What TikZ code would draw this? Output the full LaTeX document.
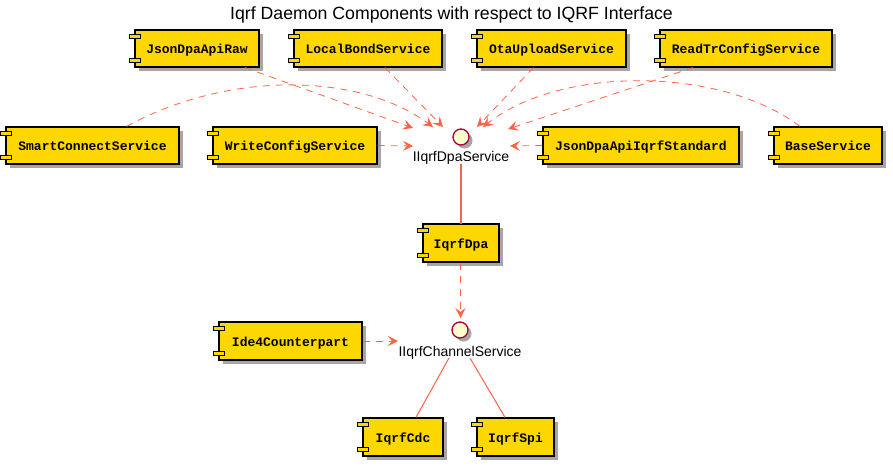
\documentclass[tikz,border=0pt]{standalone}
\usepackage{fontspec}
\setmainfont{Liberation Sans}
\setmonofont{Liberation Mono}
\usetikzlibrary{arrows.meta,shadows}
\definecolor{arr}{RGB}{255,99,71}
\definecolor{compgold}{RGB}{255,215,0}
\definecolor{ifill}{RGB}{254,254,206}
\definecolor{iborder}{RGB}{168,0,54}
\tikzset{
  shadowed/.style={drop shadow={shadow xshift=3.5pt,shadow yshift=-3.5pt,opacity=0.35,fill=black}},
  comp/.style={shape=rectangle,draw=black,line width=1.2pt,fill=compgold,inner sep=0pt,
    minimum height=37pt,text height=10pt,text depth=0pt,shadowed,
    font=\fontsize{13}{15}\selectfont\ttfamily\bfseries},
  compicon/.style={draw=black,line width=1pt,fill=compgold},
  iface/.style={shape=circle,draw=iborder,line width=1.3pt,fill=ifill,minimum size=16pt,inner sep=0pt,shadowed},
  ilabel/.style={anchor=base,inner sep=0pt,font=\fontsize{14}{16}\selectfont},
  dep/.style={draw=arr,line width=0.8pt,dash pattern=on 7pt off 6pt,-{Stealth[length=10pt,width=10pt,inset=4pt]}},
  link/.style={draw=arr,line width=1pt},
  vlink/.style={draw=arr,line width=1.4pt}
}
\newcommand\compicons[1]{%
  \draw[compicon] ([xshift=-5pt,yshift=-5pt]#1.north west) rectangle ([xshift=6pt,yshift=-9.5pt]#1.north west);
  \draw[compicon] ([xshift=-5pt,yshift=5pt]#1.south west) rectangle ([xshift=6pt,yshift=9.5pt]#1.south west);}
\begin{document}
\begin{tikzpicture}[x=1pt,y=-1pt]
\useasboundingbox (0,0) rectangle (893,466);
\node[anchor=base,inner sep=0pt,font=\fontsize{17.7}{20}\selectfont] (title) at (451.5,19.5) {Iqrf Daemon Components with respect to IQRF Interface};

% components
\node[comp,minimum width=124pt] (raw) at (197,48.5) {JsonDpaApiRaw};
\node[comp,minimum width=148pt] (bond) at (368,48.5) {LocalBondService};
\node[comp,minimum width=149pt] (ota) at (551.5,48.5) {OtaUploadService};
\node[comp,minimum width=172pt] (readtr) at (746,48.5) {ReadTrConfigService};
\node[comp,minimum width=173pt] (smart) at (92.5,145.5) {SmartConnectService};
\node[comp,minimum width=164pt] (write) at (295,145.5) {WriteConfigService};
\node[comp,minimum width=196pt] (std) at (641,145.5) {JsonDpaApiIqrfStandard};
\node[comp,minimum width=108pt] (base) at (828,145.5) {BaseService};
\node[comp,minimum width=76pt,minimum height=38pt] (dpa) at (461,243) {IqrfDpa};
\node[comp,minimum width=143pt,minimum height=38pt] (ide) at (290.5,341) {Ide4Counterpart};
\node[comp,minimum width=80pt,minimum height=38pt] (cdc) at (403,437) {IqrfCdc};
\node[comp,minimum width=77pt,minimum height=38pt] (spi) at (515.5,437) {IqrfSpi};
\foreach \n in {raw,bond,ota,readtr,smart,write,std,base,dpa,ide,cdc,spi} {\compicons{\n}}

% interfaces
\node[iface] (idpa) at (461,137) {};
\node[ilabel] (idpalbl) at (461,161) {IIqrfDpaService};
\node[iface] (ich) at (460,330) {};
\node[ilabel] (ichlbl) at (460,356) {IIqrfChannelService};

% tips around the interfaces
\coordinate (tRaw) at (413,128);
\coordinate (tSmart) at (433,127);
\coordinate (tBond) at (443,127);
\coordinate (tOta) at (477,127);
\coordinate (tBase) at (483,127);
\coordinate (tRead) at (508,129);
\coordinate (tWrite) at (413,146);
\coordinate (tStd) at (510,146);
\coordinate (tDpa) at (460.5,318);
\coordinate (tIde) at (398,341);
\coordinate (dpaTop) at (461,164);
\coordinate (dpaIn) at (461,224);

% dependencies on IIqrfDpaService
\draw[dep] ([xshift=48pt]raw.south) -- (tRaw);
\draw[dep] ([xshift=17pt]bond.south) -- (tBond);
\draw[dep] ([xshift=-18pt]ota.south) -- (tOta);
\draw[dep] ([xshift=-53pt]readtr.south) -- (tRead);
\draw[dep] ([xshift=34pt]smart.north) .. controls (230,70) and (360,73) .. (tSmart);
\draw[dep] ([xshift=-28pt]base.north) .. controls (720,66) and (560,66) .. (tBase);
\draw[dep] (write.east) -- (tWrite);
\draw[dep] (std.west) -- (tStd);
\draw[vlink] (dpaTop) -- (dpaIn);

% IIqrfChannelService
\draw[dep] ([xshift=-0.5pt]dpa.south) -- (tDpa);
\draw[dep] (ide.east) -- (tIde);
\coordinate (chL) at (449,358);
\coordinate (chR) at (470,358);
\draw[link] (chL) -- ([xshift=13pt]cdc.north);
\draw[link] (chR) -- ([xshift=-10.5pt]spi.north);
\end{tikzpicture}
\end{document}
